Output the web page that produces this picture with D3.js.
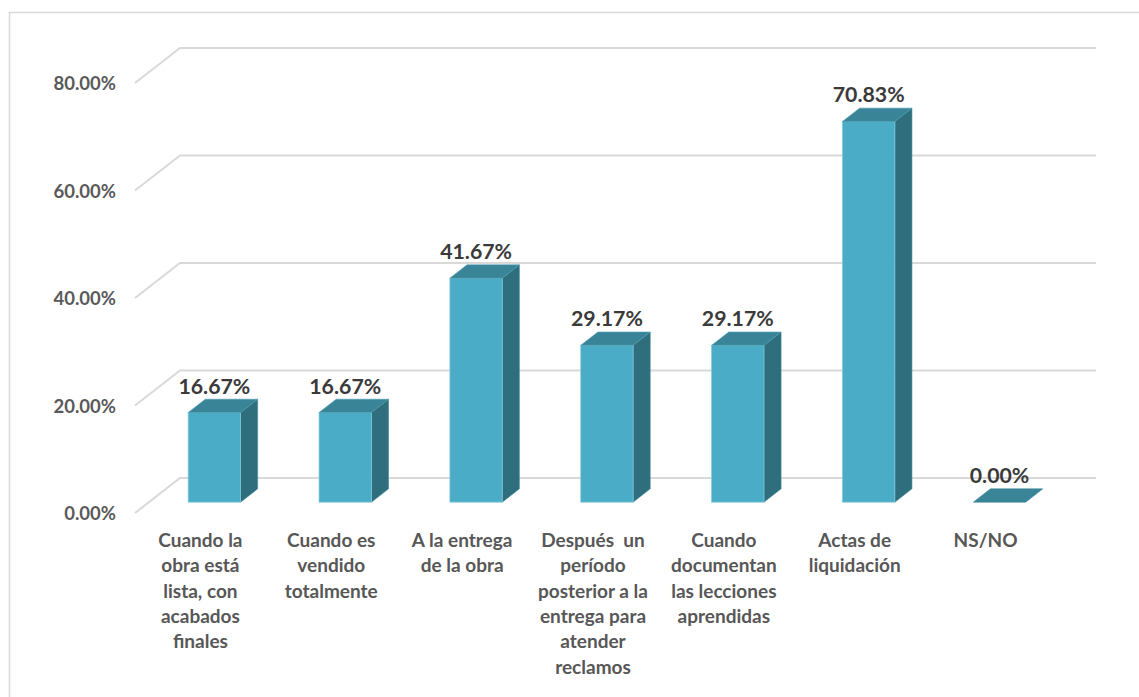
<!DOCTYPE html>
<html>
<head>
<meta charset="utf-8">
<script src="https://cdn.jsdelivr.net/npm/d3@7"></script>
<style>
  html, body { margin: 0; padding: 0; background: #fff; }
  svg { display: block; }
  text { font-family: Lato, "Open Sans", sans-serif; font-weight: 700; }
</style>
</head>
<body>
<svg id="chart" width="1139" height="697"></svg>
<script>
// Category labels (already broken into display lines)
const categoryLines = [
  ["Cuando la", "obra está", "lista, con", "acabados", "finales"],
  ["Cuando es", "vendido", "totalmente"],
  ["A la entrega", "de la obra"],
  ["Después  un", "período", "posterior a la", "entrega para", "atender", "reclamos"],
  ["Cuando", "documentan", "las lecciones", "aprendidas"],
  ["Actas de", "liquidación"],
  ["NS/NO"]
];
const categories = categoryLines.map(l => l.join(" "));
const values = [16.67, 16.67, 41.67, 29.17, 29.17, 70.83, 0.00];
const yTicks = [0, 20, 40, 60, 80];

const svg = d3.select("#chart");

// chart frame
svg.append("rect")
  .attr("x", 9.5).attr("y", 12.5)
  .attr("width", 1200).attr("height", 800)
  .attr("fill", "none").attr("stroke", "#d9d9d9").attr("stroke-width", 1.5);

// back wall plane
const x = d3.scaleBand().domain(categories).range([180, 1096])
  .paddingInner(0.6).paddingOuter(0.3);
const y = d3.scaleLinear().domain([0, 80]).range([478, 48]);

// depth vector from back wall to front of floor
const depth = { dx: -45, dy: 35 };
const barFront = 0.69, barBack = 0.31;
const proj = (px, py, t) => [px + depth.dx * t, py + depth.dy * t];

// gridlines: back wall segment + diagonal along the side wall
const grid = svg.append("g");
yTicks.forEach(v => {
  const [fx, fy] = proj(180, y(v), 1);
  grid.append("path")
    .attr("d", `M${fx},${fy}L180,${y(v)}L1096,${y(v)}`)
    .attr("fill", "none").attr("stroke", "#d9d9d9").attr("stroke-width", 2);
});

// y axis labels
svg.append("g").selectAll("text").data(yTicks).join("text")
  .attr("x", 116)
  .attr("y", v => proj(180, y(v), 1)[1] + 2.5)
  .attr("text-anchor", "end")
  .attr("dominant-baseline", "middle")
  .attr("fill", "#595959")
  .attr("font-size", 18.5)
  .text(v => d3.format(".2f")(v) + "%");

// bars
const bw = x.bandwidth();
const bars = svg.append("g");
categories.forEach((c, i) => {
  const v = values[i];
  const [x0, yb] = proj(x(c), y(0), barFront);
  const [, yt] = proj(x(c), y(v), barFront);
  const ddx = depth.dx * (barBack - barFront);
  const ddy = depth.dy * (barBack - barFront);
  const x1 = x0 + bw;
  const edge = "#7fc7d9";
  if (v > 0) {
    // side face
    bars.append("path")
      .attr("d", `M${x1},${yt}L${x1 + ddx},${yt + ddy}L${x1 + ddx},${yb + ddy}L${x1},${yb}Z`)
      .attr("fill", "#2f6e7c").attr("stroke", "#3d8a9b").attr("stroke-width", 0.6);
    // front face
    bars.append("rect")
      .attr("x", x0).attr("y", yt).attr("width", bw).attr("height", yb - yt)
      .attr("fill", "#4aacc6").attr("stroke", edge).attr("stroke-width", 0.8);
  }
  // top face
  bars.append("path")
    .attr("d", `M${x0},${yt}L${x0 + ddx},${yt + ddy}L${x1 + ddx},${yt + ddy}L${x1},${yt}Z`)
    .attr("fill", "#398597").attr("stroke", v > 0 ? "#4a9cb0" : "#398597").attr("stroke-width", 0.6);

  // value label
  bars.append("text")
    .attr("x", x0 + bw / 2)
    .attr("y", yt - 19)
    .attr("text-anchor", "middle")
    .attr("fill", "#3a3a3a")
    .attr("font-size", 21.3)
    .text(d3.format(".2f")(v) + "%");
});

// category labels
const catG = svg.append("g");
categories.forEach((c, i) => {
  const cx = x(c) + bw / 2 + depth.dx;
  const t = catG.append("text")
    .attr("text-anchor", "middle")
    .attr("fill", "#575757")
    .attr("font-size", 19);
  categoryLines[i].forEach((line, k) => {
    t.append("tspan").attr("x", cx).attr("y", 547 + k * 25.3)
      .style("white-space", "pre").text(line);
  });
});
</script>
</body>
</html>
